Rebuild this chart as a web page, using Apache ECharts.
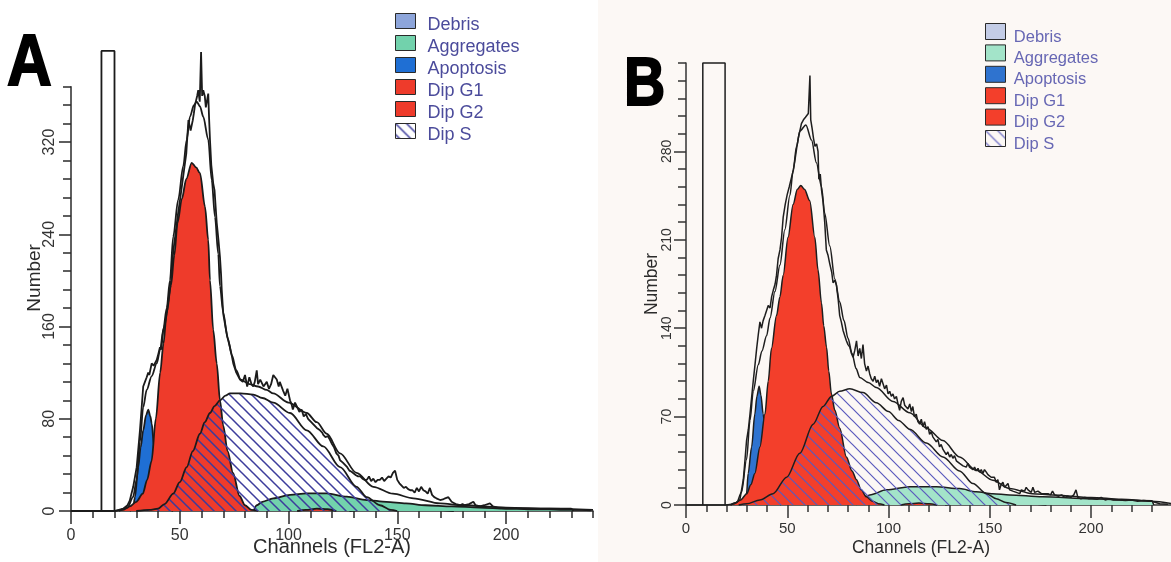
<!DOCTYPE html>
<html><head><meta charset="utf-8">
<script src="https://cdn.jsdelivr.net/npm/echarts@6/dist/echarts.min.js"></script>
<style>html,body{margin:0;padding:0;background:#fff}#c{width:1171px;height:562px}</style>
</head><body><div id="c"></div>
<script>
// ---------- DATA ----------
const legendNames = ['Debris', 'Aggregates', 'Apoptosis', 'Dip G1', 'Dip G2', 'Dip S'];
const xTitle = 'Channels (FL2-A)';
const yTitle = 'Number';
const xMajorTicks = [0, 50, 100, 150, 200];
const yMajorTicksA = [0, 80, 160, 240, 320];
const yMajorTicksB = [0, 70, 140, 210, 280];

// Panel A
const aGate = [14, 20, 399];
const aDebris = [[128,0],[136,1.5],[146,2.5],[156,2],[166,1],[176,0]];
const aAggregates = [[84,0],[85.4,5],[88,8],[93,11],[100.7,14],[108.4,15.3],[117.6,15.3],[126.8,12.4],[136,9.5],[145,8],[154,6.6],[163,5],[175,4],[188,3],[200,2],[215,2],[230,2],[231,0]];
const aApoptosis = [[27,0],[28.5,2],[29.4,12],[30.9,38],[32,55],[33.2,70],[34.5,83],[35.5,88],[36.5,82],[37.1,76],[38.2,56],[39.5,35],[41,18],[43,6],[45,1],[47,0]];
const aG1 = [[20,0],[24,1],[27,4],[30,8],[33,15],[35,27],[37,43],[39,80],[41,120],[42.5,145],[44,172],[46,196],[47.5,222],[49,250],[51,271],[53,288],[55.5,302],[57.5,298],[59.3,293],[61.6,264],[63.1,235],[63.9,200],[65.4,157],[67,128],[68.5,96],[70,74],[72,52],[74.5,33],[77.5,13],[80,5],[83,1],[86,0]];
const aG2 = [[104,0],[108,1],[113,2],[118,1.5],[122,0]];
const aS = [[30,0],[36,1],[40,2],[43,6],[47,15],[50,25],[53.2,38],[56,52],[59.3,67],[61.5,77],[63.9,85],[66,91],[68.5,96],[71,100],[73.1,102],[78,102],[83.8,101],[88,98],[93,94],[100.7,85],[108.4,70],[116,56],[123.7,38],[131.3,21],[136,12],[142,5],[147,1],[150,0]];
const aFit = [[22,0],[26,3],[28.5,12],[30.2,27],[31.7,60],[33.2,90],[34.8,105],[37.1,117],[39.4,128],[41,140],[42.4,157],[44,176],[45.5,200],[47,238],[49.3,270],[51.6,299],[53.2,322],[54.7,342],[56.5,352],[57.8,355],[59.3,351],[60.8,342],[63.1,322],[64.7,287],[66.2,255],[67.7,223],[68.5,195],[70,172],[72,150],[74,135],[76,122],[78,114],[82,110],[86,108],[90,105],[93,102],[100,94],[108.4,85],[113,77],[117.6,67],[123.7,50],[131.3,33],[139,21],[148,15],[157.4,11],[169.7,6.6],[180,5],[200,3],[220,2],[240,1]];
const aData = [[0,0],[20,0],[22,1],[24,2],[26,5],[27,9],[28.6,21],[30.2,38],[31.7,70],[32.5,90],[33.2,108],[34,112],[34.8,116],[35.5,120],[36,118],[37.1,128],[38,126],[39.4,131],[40,135],[40.9,142],[41.5,140],[42.4,157],[43,160],[44,171],[45,186],[46,200],[47,225],[48,240],[49,255],[50,268],[51,282],[52,296],[53,310],[53.5,325],[54,339],[55,330],[56,339],[56.5,345],[57,352],[58,360],[58.5,365],[59.2,355],[59.8,398],[60.3,360],[60.8,365],[61.5,360],[62,350],[63.1,362],[63.5,340],[63.9,322],[64.5,300],[65.4,284],[66,278],[66.6,277],[67,250],[67.8,235],[68.5,220],[69,205],[69.3,192],[70,171],[71,160],[72,150],[73.1,142],[74,134],[74.6,128],[76,120],[77.7,114],[79,112],[80,118],[81,108],[82,116],[83,110],[83.8,108],[84.5,112],[85.4,122],[86,110],[87,114],[88.5,108],[90,112],[91,106],[92,110],[93,118],[94.6,114],[95.5,108],[96,112],[97.6,104],[98.5,100],[99.5,106],[100.7,96],[101.5,92],[102,88],[103,94],[104,90],[105,86],[106,88],[107,82],[108,84],[109,80],[109.9,79],[111,76],[112,74],[113,72],[114.5,70],[115.5,68],[116,66],[117,64],[118,65],[119,62],[120,58],[121,55],[122,50],[123,48],[123.7,44],[125,42],[126,40],[127,38],[128,35],[129,34],[129.8,33],[131,31],[132,30],[133,30],[134,28],[135,27],[136,27],[137,30],[138,26],[139,28],[140,25],[141,27],[142,27],[143,29],[144,26],[145,28],[146,30],[147,29],[148,33],[149,35],[150,27],[151,24],[152,22],[153,20],[154,21],[155,19],[156,18],[157,18],[158,16],[159,20],[160,17],[161,21],[162,18],[163,17],[164,15],[165,20],[166,14],[167,12],[168,11],[169.7,9.5],[171,10],[172,11],[173.5,12],[175,8],[176,7],[177,6],[178.9,5],[180,6],[181,5],[183,6],[185,8],[186,5],[188,4],[190,5],[192.6,6.6],[194,4],[196,3],[200,2],[205,2],[210,1.5],[215,1.5],[220,1.5],[225,1],[230,1],[235,1],[239,0.5]];

// Panel B
const bGate = [8.3, 19.3, 350];
const bDebris = [[128,0],[138,1.5],[148,2.5],[158,2],[168,1],[178,0]];
const bAggregates = [[84,0],[85.8,4],[90.7,8],[99,12],[110.5,14.5],[123.6,14.5],[135.1,13],[143.3,10.5],[151.5,9],[159.8,8],[176,6.5],[200,5],[215,4],[230,3.4],[231,0]];
const bApoptosis = [[28,0],[29.9,9],[30.7,25],[32.4,46],[34,72],[35,86],[36.1,94],[37,87],[38.1,72],[39.5,50],[41,30],[43,12],[45,3],[47,0]];
const bG1 = [[22,0],[24,1.5],[27,4],[30,9],[32,16],[34,25],[36.5,46],[39,72],[40.6,98],[42.2,124],[44.7,150],[46.4,165],[48,182],[50.4,212],[52.9,238],[55,250],[56.7,253],[58.5,250],[61.1,241],[63.6,212],[65.2,186],[66.9,160],[68,142],[69.4,125],[70.5,106],[71.8,88],[73.5,75],[75.9,61],[79.2,38],[82,27],[84.2,20],[86.5,12],[89.1,6.5],[92,3],[95,1],[98,0]];
const bG2 = [[106,0],[110,1],[115,1.5],[120,1],[124,0]];
const bS = [[26,0],[30,1],[36.5,4],[43,9],[49.7,22],[56.2,41],[62.8,64],[67.7,78],[71.8,86],[75.9,90],[80.9,92],[87.4,89],[94,81],[100,74],[105,67],[110.5,60],[118.7,49],[126.9,38],[135.1,27],[141.7,17],[148.3,9],[153.2,5],[158,2],[163,0]];
const bFit = [[22,0],[25,2],[27.4,10],[29.9,36],[31.6,67],[33.2,90],[35.7,111],[37.5,122],[39.8,134],[41.5,148],[43.9,169],[46.4,190],[48.8,218],[51.3,245],[52.9,265],[54.6,284],[56.2,296],[59.2,301],[62,289],[64.4,271],[66.9,252],[68.5,231],[71,205],[73.5,179],[75.9,161],[78,146],[80,132],[82,120],[84,108],[85.8,101],[90,97],[94,93],[102.2,82],[110.5,73],[118.7,61],[126.9,51],[135.1,38],[143.3,27.5],[151.5,19.6],[159.8,13],[171,9],[181,8],[200,6],[215,4.5],[230,3],[240,1]];
const bData = [[0,0],[20,0],[24,1],[26.6,4],[28.3,20],[29.1,35],[29.9,51],[30.8,60],[31.6,72],[32.4,85],[33.2,98],[34,110],[34.9,124],[35.7,135],[36.5,145],[37.3,140],[38.1,146],[39,150],[39.8,150],[40.6,158],[41.5,156],[42.3,165],[43.1,170],[44,175],[44.7,182],[45.5,195],[46.4,202],[47.2,212],[48,228],[49,238],[50,246],[51,252],[52.2,260],[53,265],[53.8,273],[54.6,282],[55.4,290],[56.2,296],[57,302],[58,305],[59,307],[60.4,310],[61.2,340],[61.6,305],[62.3,298],[63,290],[63.7,284],[64.5,286],[65.2,280],[65.6,258],[66.3,262],[66.9,250],[67.7,240],[68.5,224],[69.3,202],[70.1,198],[71,191],[72,184],[72.6,176],[73.5,178],[74.3,174],[75.2,162],[75.9,150],[76.7,145],[77.6,138],[78.4,134],[79.2,130],[80,127],[80.9,125],[81.7,120],[82.5,117],[83.3,122],[84.2,130],[85,118],[85.8,124],[86.6,116],[87.4,127],[88.2,112],[89.1,106],[89.9,110],[90.7,104],[91.5,100],[92.4,98],[93.2,102],[94,97],[94.8,99],[95.6,94],[96.5,100],[97.3,96],[98.1,92],[99,95],[99.8,88],[100.6,90],[101.4,86],[102.2,88],[103,84],[103.9,86],[104.7,80],[105.5,75],[106.3,82],[107.2,85],[108,79],[108.8,80],[109.6,76],[110.5,80],[111.3,74],[112,78],[112.8,70],[113.7,72],[114.5,66],[115.4,64],[116.2,68],[117,62],[117.8,66],[118.7,60],[119.5,62],[120.3,56],[121.1,58],[121.9,54],[122.8,55],[123.6,50],[124.4,52],[125.2,46],[126,48],[126.9,44],[127.7,45],[128.5,40],[129.3,42],[130.2,38],[131,40],[131.8,37],[132.6,39],[133.5,35],[134.3,36],[135.1,33],[136,34],[136.8,31],[137.6,32],[138.4,30],[139.2,33],[140,30],[140.9,31],[141.7,28],[142.5,30],[143.3,27],[144.2,29],[145,26],[145.8,28],[146.6,25],[147.4,28],[148.3,26],[149.1,24],[150,23],[150.7,22],[151.5,21],[152.3,22],[153.2,18],[154,20],[154.8,12],[155.6,16],[156.5,18],[157.3,14],[158.1,15],[159,17],[159.8,12],[160.6,13],[161.4,11],[162.2,12],[163.1,10],[163.9,11],[164.8,9],[165.6,12],[166.4,13],[167.2,11],[168,14],[168.9,12],[169.7,13],[170.5,10],[171.3,14],[172.2,10],[173,9],[173.8,11],[174.6,10],[175.5,9],[176.3,8],[177.1,9],[177.9,8],[178.8,9],[180,8],[181,11],[182,8],[182.8,7.8],[184,7],[185.5,8],[187,6],[188.5,7],[190,6],[191.5,8],[192.6,12],[193.5,6],[195,5],[197,6],[199,5],[200.8,5],[203,4.5],[205,6],[207,4],[209,5],[211,4],[214,4],[217,3.5],[220,4],[223,3],[226,3.5],[230,3],[234,1],[238,0.5]];

// ---------- STYLE / LAYOUT ----------
function hatch(size, color, width) {
  const cv = document.createElement('canvas');
  cv.width = size; cv.height = size;
  const ctx = cv.getContext('2d');
  ctx.strokeStyle = color; ctx.lineWidth = width;
  ctx.beginPath();
  ctx.moveTo(-2, -2); ctx.lineTo(size + 2, size + 2);
  ctx.moveTo(-2, size - 2); ctx.lineTo(2, size + 2);
  ctx.moveTo(size - 2, -2); ctx.lineTo(size + 2, 2);
  ctx.stroke();
  return { image: cv, repeat: 'repeat' };
}

const panels = [
  {
    grid: { left: 71, top: 86.7, width: 522, height: 424.3 },
    yMax: 368, yStep: 16, yMajor: yMajorTicksA,
    colors: ['#8da5da', '#72d2ac', '#1f6fd4', '#ee3b2b', '#ee3b2b', hatch(11, '#3c3c9c', 1.5)],
    series: [aDebris, aAggregates, aApoptosis, aG1, aG2, aS], gate: aGate, fit: aFit, data: aData,
    lw: 1.8, ink: '#1b1b1b', tickColor: '#2a2a2a',
    xLabel: { fontSize: 16, margin: 17 }, xName: { fontSize: 20, gap: 26, pad: [0, 0, 0, 0] },
    yLabel: { fontSize: 16, margin: 13 }, yName: { fontSize: 19, gap: 27, pad: [0, 0, 0, 42] },
    legend: { left: 395, top: 8, iw: 20, ih: 15, gap: -4.0, fs: 18, pad: [8, 0, 0, 7], color: '#4b4b9b' }
  },
  {
    grid: { left: 686, top: 63, width: 486, height: 442 },
    yMax: 350, yStep: 14, yMajor: yMajorTicksB,
    colors: ['#c3cce6', '#a3e4c9', '#2f73cf', '#f33f2b', '#f33f2b', hatch(12, '#5a5abd', 1.2)],
    series: [bDebris, bAggregates, bApoptosis, bG1, bG2, bS], gate: bGate, fit: bFit, data: bData,
    lw: 1.5, ink: '#1e1e1e', tickColor: '#333',
    xLabel: { fontSize: 15, margin: 16 }, xName: { fontSize: 17.5, gap: 34, pad: [0, 16, 0, 0] },
    yLabel: { fontSize: 14, margin: 12 }, yName: { fontSize: 17.5, gap: 25, pad: [0, 0, 0, 0] },
    legend: { left: 985, top: 17.5, iw: 20, ih: 16, gap: -6.6, fs: 16.5, pad: [11, 0, 0, 3.3], color: '#6767b4' }
  }
];

const font = 'Liberation Sans';
const grids = [], xAxes = [], yAxes = [], series = [], legends = [];

panels.forEach((p, gi) => {
  grids.push(Object.assign({ containLabel: false, outerBoundsMode: 'none' }, p.grid));
  const lineSt = { color: p.tickColor, width: 1.5 };
  xAxes.push({ type: 'value', gridIndex: gi, position: 'bottom', min: 0, max: 240, interval: 10,
    axisLine: { show: true, onZero: false, lineStyle: lineSt },
    axisTick: { show: true, length: 7, lineStyle: lineSt },
    axisLabel: { show: false }, splitLine: { show: false } });
  xAxes.push({ type: 'value', gridIndex: gi, position: 'bottom', min: 0, max: 240, interval: 50,
    axisLine: { show: false, onZero: false },
    axisTick: { show: true, length: 13, customValues: xMajorTicks, lineStyle: lineSt },
    axisLabel: { show: true, customValues: xMajorTicks, fontFamily: font, fontSize: p.xLabel.fontSize, color: '#333', margin: p.xLabel.margin },
    splitLine: { show: false },
    name: xTitle, nameLocation: 'middle', nameGap: p.xName.gap, nameMoveOverlap: false,
    nameTextStyle: { fontFamily: font, fontSize: p.xName.fontSize, color: '#2b2b2b', padding: p.xName.pad } });
  yAxes.push({ type: 'value', gridIndex: gi, position: 'left', min: 0, max: p.yMax, interval: p.yStep,
    axisLine: { show: true, onZero: false, lineStyle: lineSt },
    axisTick: { show: true, length: 8, lineStyle: lineSt },
    axisLabel: { show: false }, splitLine: { show: false } });
  yAxes.push({ type: 'value', gridIndex: gi, position: 'left', min: 0, max: p.yMax, interval: p.yStep * 5,
    axisLine: { show: false, onZero: false },
    axisTick: { show: true, length: 12, customValues: p.yMajor, lineStyle: lineSt },
    axisLabel: { show: true, customValues: p.yMajor, rotate: 90, fontFamily: font, fontSize: p.yLabel.fontSize, color: '#333', margin: p.yLabel.margin },
    splitLine: { show: false },
    name: yTitle, nameLocation: 'middle', nameGap: p.yName.gap, nameRotate: 90, nameMoveOverlap: false,
    nameTextStyle: { fontFamily: font, fontSize: p.yName.fontSize, color: '#2b2b2b', padding: p.yName.pad } });

  const xi = gi * 2, yi = gi * 2;
  p.series.forEach((d, k) => {
    const fill = p.colors[k];
    series.push({ type: 'line', name: legendNames[k], data: d, xAxisIndex: xi, yAxisIndex: yi,
      symbol: 'none', showSymbol: false, clip: false, silent: true,
      smooth: 0.3, smoothMonotone: 'x',
      itemStyle: { color: fill }, lineStyle: { color: p.ink, width: p.lw },
      areaStyle: { color: fill, opacity: 1 }, z: 2 + k, animation: false });
  });
  const g = p.gate;
  series.push({ type: 'line', data: [[g[0], 0], [g[0], g[2]], [g[1], g[2]], [g[1], 0]],
    xAxisIndex: xi, yAxisIndex: yi, symbol: 'none', clip: false, silent: true,
    lineStyle: { color: p.ink, width: p.lw }, z: 10, animation: false });
  series.push({ type: 'line', data: p.fit, xAxisIndex: xi, yAxisIndex: yi, symbol: 'none', clip: false, silent: true,
    smooth: 0.3, smoothMonotone: 'x', lineStyle: { color: p.ink, width: p.lw }, z: 11, animation: false });
  series.push({ type: 'line', data: p.data, xAxisIndex: xi, yAxisIndex: yi, symbol: 'none', clip: false, silent: true,
    lineStyle: { color: p.ink, width: p.lw }, z: 12, animation: false });

  const L = p.legend;
  legends.push({ orient: 'vertical', left: L.left, top: L.top, padding: 0, icon: 'rect',
    itemWidth: L.iw, itemHeight: L.ih, itemGap: L.gap, selectedMode: false,
    itemStyle: { borderColor: '#2a2a2a', borderWidth: 1 },
    formatter: '{t|{name}}',
    textStyle: { fontFamily: font, fontSize: L.fs, color: L.color,
      rich: { t: { fontFamily: font, fontSize: L.fs, color: L.color, lineHeight: 14, padding: L.pad } } },
    data: legendNames.map((n, k) => ({ name: n, icon: 'rect', itemStyle: { color: p.colors[k], borderColor: '#2a2a2a', borderWidth: 1 } })) });
});

const chart = echarts.init(document.getElementById('c'), null, { renderer: 'canvas' });
chart.setOption({
  backgroundColor: '#ffffff',
  animation: false,
  graphic: [
    { type: 'rect', shape: { x: 598, y: 0, width: 573, height: 562 }, style: { fill: '#fcf8f5' }, z: -10, silent: true },
    { type: 'text', x: 7, y: 65, scaleX: 0.86, z: 50,
      style: { text: 'A', x: 0, y: 0, fontFamily: font, fontWeight: 'bold', fontSize: 72, fill: '#000', stroke: '#000', lineWidth: 2, verticalAlign: 'middle', align: 'left' } },
    { type: 'text', x: 624, y: 86, scaleX: 0.84, z: 50,
      style: { text: 'B', x: 0, y: 0, fontFamily: font, fontWeight: 'bold', fontSize: 68, fill: '#000', stroke: '#000', lineWidth: 2, verticalAlign: 'middle', align: 'left' } }
  ],
  grid: grids, xAxis: xAxes, yAxis: yAxes, legend: legends, series: series
});
</script></body></html>
